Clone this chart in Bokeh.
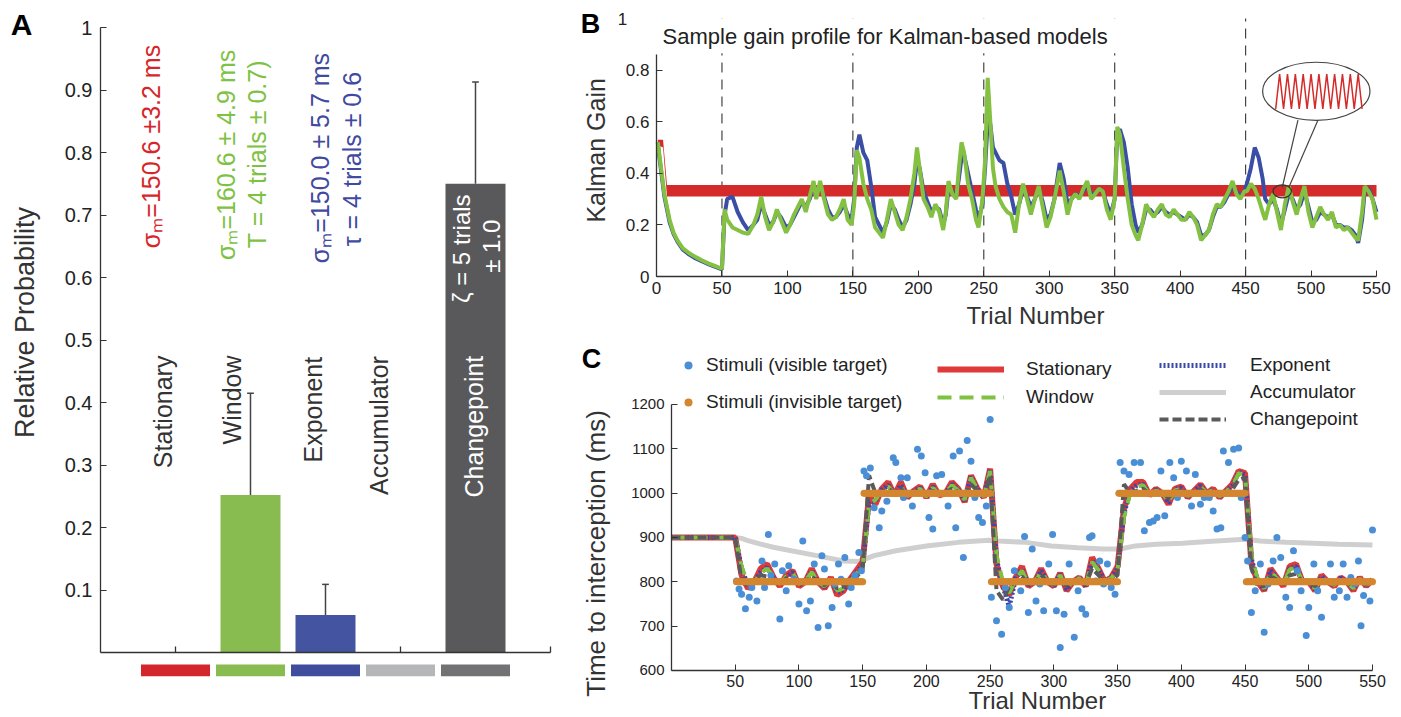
import numpy as np
from math import pi
from bokeh.plotting import figure
from bokeh.layouts import row, column
from bokeh.models import (FixedTicker, CustomJSTickFormatter, Label, Legend, Range1d)
from bokeh.core.properties import value
from bokeh.embed import file_html
from bokeh.resources import INLINE

FONT = "Liberation Sans"
AX = "#333333"
TXT = "#222222"

# ---------------- Panel A data ----------------
models = ["Stationary", "Window", "Exponent", "Accumulator", "Changepoint"]
model_pos = [1, 2, 3, 4, 5]
rel_prob = [0.0, 0.252, 0.060, 0.0, 0.750]
err_pos = [2, 3, 5]
err_base = [0.252, 0.060, 0.750]
err_top = [0.415, 0.109, 0.913]
bar_colors = ["#d3262c", "#88bb50", "#4454a0", "#b5b6b8", "#59595b"]
swatch_colors = ["#d3262c", "#88bb50", "#3f4d9c", "#b5b6b8", "#727274"]
a_xticks = [1, 4, 6]

# rotated annotation texts of panel A
name_x = [0.83, 1.76, 2.84, 3.71, 4.98]
name_y = [0.295, 0.333, 0.304, 0.252, 0.248]
name_colors = ["#333333", "#333333", "#333333", "#333333", "#ffffff"]
param_text = ["σₘ=150.6  ±3.2 ms", "σₘ=160.6  ± 4.9 ms", "T = 4 trials  ± 0.7)",
              "σₘ=150.0  ± 5.7 ms", "τ = 4 trials  ± 0.6"]
param_x = [0.67, 1.67, 2.09, 2.93, 3.36]
param_y = [0.647, 0.628, 0.647, 0.623, 0.650]
param_colors = ["#d6262b", "#7dc242", "#7dc242", "#3f4aa0", "#3f4aa0"]
cp_text = ["ζ = 5 trials", "± 1.0"]
cp_x = [4.81, 5.21]
cp_y = [0.646, 0.650]

# ---------------- Panel B data ----------------
change_trials = [50, 150, 250, 350, 450]
b_t = ([1, 2, 4, 6, 8, 10, 13, 16, 20, 25, 30, 35, 40, 45, 50] +
       [52, 54, 58, 62, 66, 70, 74, 77, 80, 83, 86, 89, 92, 95, 99, 102, 105, 108, 111, 114, 117, 120,
        122, 125, 128, 131, 134, 137, 140, 143, 146, 149] +
       [151, 153, 155, 158, 161, 164, 167, 170, 173, 176, 179, 182, 185, 188, 191, 194, 197, 199, 201,
        204, 207, 210, 213, 216, 219, 221, 223, 226, 229, 231, 233, 235, 238, 241, 244, 246, 249] +
       [251, 253, 255, 257, 259, 262, 265, 268, 271, 274, 277, 280, 283, 286, 289, 292, 295, 298, 301,
        304, 308, 311, 314, 317, 320, 323, 326, 329, 332, 335, 338, 341, 344, 347, 350] +
       [352, 354, 357, 360, 363, 366, 368, 371, 374, 377, 380, 383, 386, 389, 392, 395, 398, 401, 404,
        407, 410, 413, 416, 419, 422, 425, 428, 431, 434, 437, 440, 443, 446, 449] +
       [451, 454, 457, 460, 463, 465, 468, 471, 474, 477, 480, 483, 486, 489, 492, 495, 498, 501, 504,
        507, 510, 513, 516, 519, 522, 525, 528, 531, 534, 536, 539, 541, 544, 547, 550])
gain_window = ([.52, .48, .40, .32, .27, .22, .17, .14, .11, .09, .075, .062, .05, .04, .03] +
               [.26, .22, .19, .18, .17, .165, .2, .24, .31, .23, .18, .21, .26, .22, .17, .2, .24, .27, .3, .25,
                .31, .37, .3, .37, .3, .24, .22, .23, .26, .3, .22, .2] +
               [.28, .49, .46, .36, .3, .26, .19, .17, .15, .22, .3, .25, .2, .18, .23, .3, .4, .5, .42, .3,
                .27, .23, .28, .25, .18, .25, .37, .32, .3, .42, .52, .48, .36, .3, .22, .19, .3] +
               [.45, .77, .6, .42, .35, .3, .27, .25, .24, .17, .28, .36, .3, .24, .3, .35, .27, .19, .23, .3,
                .41, .33, .24, .3, .32, .3, .34, .37, .3, .32, .34, .33, .26, .22, .3] +
               [.58, .55, .42, .3, .2, .16, .14, .2, .28, .25, .23, .26, .28, .24, .23, .26, .24, .22, .22, .25,
                .23, .2, .14, .16, .18, .24, .28, .27, .3, .33, .37, .32, .3, .33] +
               [.33, .36, .34, .3, .25, .22, .28, .32, .25, .18, .28, .35, .29, .24, .3, .35, .25, .19, .23, .27,
                .24, .22, .25, .19, .2, .18, .19, .17, .15, .14, .25, .35, .33, .3, .22])
gain_exponent = ([.52, .47, .39, .31, .26, .21, .165, .135, .105, .085, .07, .058, .047, .037, .028] +
                 [.24, .30, .31, .25, .21, .18, .2, .22, .28, .24, .2, .21, .25, .23, .19, .2, .23, .26, .29, .27,
                  .3, .35, .32, .35, .31, .26, .23, .23, .25, .28, .24, .22] +
                 [.3, .5, .55, .48, .45, .35, .23, .2, .17, .21, .28, .26, .22, .19, .22, .28, .36, .45, .42, .33,
                  .29, .25, .27, .26, .2, .24, .34, .33, .31, .38, .46, .47, .4, .33, .26, .22, .28] +
                 [.42, .6, .59, .5, .48, .45, .44, .36, .31, .24, .28, .34, .31, .27, .3, .34, .29, .22, .24, .3,
                  .44, .38, .28, .3, .32, .31, .33, .36, .32, .32, .34, .33, .28, .24, .3] +
                 [.56, .57, .52, .42, .28, .2, .17, .2, .26, .26, .24, .25, .27, .25, .24, .25, .24, .23, .22, .24,
                  .23, .21, .16, .16, .18, .23, .27, .27, .29, .32, .35, .33, .31, .33] +
                 [.36, .42, .5, .46, .38, .3, .28, .3, .26, .2, .26, .32, .3, .26, .28, .33, .27, .21, .22, .25,
                  .24, .23, .24, .2, .2, .19, .19, .18, .16, .13, .22, .33, .34, .3, .25])
# stationary gain: narrow start, then an oscillating band (drawn as its envelope)
stat_t = [1, 5, 8, 550]
stat_lo = [0.51, 0.50, 0.31, 0.31]
stat_hi = [0.53, 0.53, 0.355, 0.355]
# magnified inset of the stationary oscillation
inset_t = [473, 476, 479, 482, 485, 488, 491, 494, 497, 500, 503, 506, 509, 512, 515, 518, 521, 524,
           527, 530, 533, 536, 539]
inset_g = [0.65, 0.785, 0.65, 0.785, 0.65, 0.785, 0.65, 0.785, 0.65, 0.785, 0.65, 0.785, 0.65, 0.785,
           0.65, 0.785, 0.65, 0.785, 0.65, 0.785, 0.65, 0.785, 0.65]

# ---------------- Panel C data ----------------
c_t = list(range(0, 551, 5))
c_stat = ([900] * 11 +
          [815, 785, 800, 830, 840, 810, 790, 815, 825, 790, 800, 830, 800, 785, 810, 770, 780, 805, 825, 845] +
          [995, 975, 1010, 1025, 995, 1025, 990, 1005, 1015, 990, 1020, 995, 1000, 1025, 1010, 980, 1040, 1010, 990, 1055] +
          [840, 790, 770, 810, 835, 790, 800, 830, 800, 790, 820, 780, 800, 810, 790, 855, 830, 800, 810, 835] +
          [965, 1010, 1025, 1025, 995, 1010, 1000, 975, 1010, 1015, 990, 1005, 1020, 1000, 1010, 990, 1005, 1020, 1050, 1045] +
          [840, 800, 780, 830, 810, 790, 835, 840, 800, 800, 780, 815, 800, 790, 810, 800, 780, 810, 790, 805])
c_win = ([900] * 11 +
         [835, 795, 800, 820, 830, 812, 795, 812, 820, 795, 802, 822, 800, 790, 808, 780, 785, 800, 818, 835] +
         [975, 985, 1005, 1015, 998, 1015, 993, 1003, 1010, 992, 1012, 997, 1000, 1018, 1006, 985, 1035, 1008, 992, 1050] +
         [860, 800, 775, 805, 825, 795, 800, 822, 802, 793, 815, 785, 800, 808, 792, 845, 826, 802, 808, 828] +
         [945, 1000, 1015, 1018, 997, 1006, 1000, 980, 1006, 1010, 993, 1003, 1015, 1000, 1007, 993, 1003, 1015, 1045, 1040] +
         [860, 805, 785, 822, 808, 793, 828, 832, 802, 800, 785, 810, 800, 793, 808, 800, 785, 807, 793, 803])
c_exp = ([900] * 11 +
         [830, 790, 800, 822, 832, 810, 793, 810, 822, 793, 800, 825, 800, 788, 808, 775, 782, 803, 820, 838] +
         [980, 982, 1007, 1018, 996, 1018, 992, 1004, 1012, 991, 1015, 996, 1000, 1020, 1008, 983, 1037, 1009, 991, 1052] +
         [850, 790, 745, 808, 828, 793, 800, 825, 801, 791, 817, 783, 800, 809, 791, 848, 828, 801, 809, 830] +
         [955, 1005, 1018, 1020, 996, 1008, 1000, 978, 1008, 1012, 992, 1004, 1017, 1000, 1008, 992, 1004, 1017, 1047, 1042] +
         [850, 803, 783, 825, 809, 792, 830, 835, 801, 800, 783, 812, 800, 792, 809, 800, 783, 808, 792, 804])
c_cp = ([900] * 11 +
        [800, 790, 805, 815, 812, 800, 795, 808, 810, 795, 800, 812, 800, 792, 805, 785, 790, 800, 810, 830] +
        [1040, 1000, 1000, 1010, 1000, 1010, 995, 1000, 1005, 995, 1005, 998, 1000, 1010, 1003, 990, 1020, 1005, 995, 1040] +
        [780, 760, 790, 800, 812, 795, 800, 815, 800, 795, 808, 790, 800, 805, 795, 830, 815, 800, 805, 815] +
        [1020, 1000, 1005, 1010, 998, 1003, 1000, 990, 1003, 1005, 995, 1000, 1008, 1000, 1003, 995, 1000, 1008, 1030, 1035] +
        [830, 790, 790, 812, 805, 795, 815, 818, 800, 800, 790, 805, 800, 796, 804, 800, 790, 803, 795, 802])
acc_t = [0, 50, 55, 60, 70, 80, 94, 114, 135, 147, 159, 176, 200, 225, 249, 257, 278, 298, 319, 339,
         352, 364, 380, 401, 421, 450, 462, 482, 503, 523, 550]
acc_v = [900, 900, 898, 893, 885, 878, 870, 859, 847, 846, 859, 870, 881, 889, 894, 892, 889, 881, 877, 874,
         874, 881, 885, 887, 891, 896, 892, 889, 887, 885, 883]

vis_t = ([51, 53, 55, 58, 61, 63, 67, 71, 73, 76, 78, 81, 85, 87, 90, 92, 96, 100, 103, 106, 109, 112, 115,
          118, 120, 123, 126, 128, 131, 133, 136, 139, 141, 144, 147, 149] +
         [151, 153, 156, 159, 163, 165, 169, 174, 176, 180, 182, 185, 189, 193, 196, 199, 202, 205, 208, 212,
          217, 221, 223, 226, 229, 232, 235, 238, 241, 244, 247, 250] +
         [251, 255, 259, 262, 265, 269, 274, 277, 280, 283, 286, 289, 292, 296, 299, 302, 305, 308, 312, 316,
          319, 322, 325, 328, 330, 333, 336, 339, 342, 345, 348] +
         [352, 355, 359, 363, 368, 371, 375, 378, 381, 384, 387, 391, 394, 397, 400, 404, 408, 411, 415, 418,
          422, 425, 428, 431, 433, 437, 441, 445, 447, 450] +
         [452, 455, 458, 462, 465, 468, 472, 475, 478, 482, 485, 488, 491, 494, 498, 500, 504, 507, 510, 513,
          517, 520, 524, 527, 530, 533, 536, 539, 541, 543, 548, 550])
vis_ms = ([802, 784, 772, 739, 765, 787, 757, 847, 787, 907, 814, 840, 716, 825, 780, 836, 806, 750, 892, 735,
           757, 840, 697, 859, 829, 701, 742, 795, 840, 806, 855, 750, 787, 814, 866, 825] +
          [1050, 1039, 1057, 967, 922, 960, 982, 1080, 1069, 1035, 990, 1035, 971, 1099, 1084, 1046, 945, 919,
           1039, 1042, 971, 1084, 922, 1095, 855, 1119, 1072, 990, 945, 934, 971, 1166] +
          [765, 712, 682, 787, 742, 825, 780, 902, 731, 874, 757, 795, 735, 840, 907, 735, 652, 727, 840, 675,
           780, 739, 727, 900, 904, 802, 847, 795, 840, 787, 772] +
          [1069, 1050, 1042, 1069, 1069, 915, 934, 937, 945, 1050, 949, 1069, 1035, 990, 1072, 1050, 971, 1042,
           975, 990, 990, 960, 919, 922, 1095, 1069, 1099, 1102, 990, 900] +
          [847, 731, 780, 840, 686, 795, 847, 900, 855, 765, 742, 870, 825, 780, 679, 742, 840, 780, 720, 802,
           840, 765, 780, 840, 765, 810, 795, 847, 701, 769, 757, 917])
block_start = [51, 151, 251, 351, 451]
block_end = [150, 250, 350, 450, 550]
block_mean = [800, 1000, 800, 1000, 800]
inv_t = [t for s, e in zip(block_start, block_end) for t in range(s, e + 1)]
inv_ms = [m for s, e, m in zip(block_start, block_end, block_mean) for t in range(s, e + 1)]


def make_fig(w, h, xr, yr):
    p = figure(width=w, height=h, x_range=Range1d(*xr), y_range=Range1d(*yr),
               output_backend="svg", toolbar_location=None,
               min_border=0, min_border_left=0, min_border_right=0, min_border_top=0, min_border_bottom=0)
    p.xgrid.visible = False
    p.ygrid.visible = False
    p.outline_line_color = None
    return p


def style_axis(ax, tick_size, loc, bounds):
    ax.fixed_location = loc
    ax.bounds = bounds
    ax.axis_line_color = AX
    ax.axis_line_width = 1.3
    ax.major_tick_line_color = AX
    ax.major_tick_in = 6
    ax.major_tick_out = 0
    ax.minor_tick_line_color = None
    ax.major_label_text_font = FONT
    ax.major_label_text_font_size = tick_size
    ax.major_label_text_color = TXT


def add_label(p, x, y, text, size, angle=0.0, bold=False, color=TXT, align="center"):
    p.add_layout(Label(x=x, y=y, text=text, angle=angle, text_font=FONT, text_font_size=size,
                       text_font_style="bold" if bold else "normal", text_color=color,
                       text_align=align, text_baseline="middle"))


fmt1 = CustomJSTickFormatter(code="return (Math.round(tick*10)/10).toString();")

# ================= Panel A =================
pA = make_fig(580, 716, (-1.3333, 6.4), (-0.1024, 1.0432))
pA.vbar(x=model_pos, top=rel_prob, width=0.8, fill_color=bar_colors, line_color=None)
pA.segment(x0=err_pos, y0=err_base, x1=err_pos, y1=err_top, line_color="#444444", line_width=1.5)
pA.segment(x0=[x - 0.045 for x in err_pos], y0=err_top, x1=[x + 0.045 for x in err_pos], y1=err_top,
           line_color="#444444", line_width=1.5)
pA.quad(left=[x - 0.46 for x in model_pos], right=[x + 0.46 for x in model_pos],
        bottom=-0.038, top=-0.019, fill_color=swatch_colors, line_color=None)
# x axis of panel A (line at zero with inward ticks, no labels)
pA.segment(x0=[0], y0=[0], x1=[6], y1=[0], line_color=AX, line_width=1.3)
pA.segment(x0=a_xticks, y0=0, x1=a_xticks, y1=0.0096, line_color=AX, line_width=1.3)
pA.text(x=name_x, y=name_y, text=models, angle=pi / 2, text_align="left", text_baseline="middle",
        text_font=value(FONT), text_font_size="25px", text_color=name_colors)
pA.text(x=param_x, y=param_y, text=param_text, angle=pi / 2, text_align="left", text_baseline="middle",
        text_font=value(FONT), text_font_size="25px", text_color=param_colors)
pA.text(x=cp_x, y=cp_y, text=cp_text, angle=pi / 2, text_align="center", text_baseline="middle",
        text_font=value(FONT), text_font_size="24px", text_color="#ffffff")
pA.xaxis.visible = False
style_axis(pA.yaxis[0], "20px", 0, (0, 1))
pA.yaxis.ticker = FixedTicker(ticks=[0.1, 0.2, 0.3, 0.4, 0.5, 0.6, 0.7, 0.8, 0.9, 1.0])
pA.yaxis.formatter = fmt1
pA.yaxis.major_label_standoff = 8
add_label(pA, -1.013, 0.528, "Relative Probability", "27px", angle=pi / 2, color="#333333")
add_label(pA, -1.053, 1.005, "A", "30px", bold=True, color="#000000")

# ================= Panel B =================
pB = make_fig(821, 330, (-58.06, 569.1), (-0.2093, 1.0698))
pB.segment(x0=change_trials, y0=0, x1=change_trials, y1=1.0, line_color="#444444", line_width=1.2,
           line_dash="10 7")
pB.varea(x=stat_t, y1=stat_lo, y2=stat_hi, fill_color="#d42a2a")
pB.line(b_t, gain_exponent, line_color="#3b4ea6", line_width=4)
pB.line(b_t, gain_window, line_color="#84c143", line_width=4)
# white title box (covers the top of the dashed lines as in the original)
pB.quad(left=[1], right=[372], bottom=[0.865], top=[1.0], fill_color="white", line_color=None)
add_label(pB, 4.6, 0.932, "Sample gain profile for Kalman-based models", "22px", color=TXT, align="left")
# callout inset
pB.line([490, 478], [0.606, 0.345], line_color="#444444", line_width=1.2)
pB.line([506, 483], [0.614, 0.345], line_color="#444444", line_width=1.2)
pB.ellipse(x=[504], y=[0.718], width=[82], height=[0.225], fill_color="white", line_color="#444444",
           line_width=1.2)
pB.line(inset_t, inset_g, line_color="#d42a2a", line_width=1.5)
pB.ellipse(x=[478], y=[0.33], width=[14], height=[0.05], fill_color=None, line_color="#333333",
           line_width=1.2)
style_axis(pB.xaxis[0], "17px", 0, (0, 550))
style_axis(pB.yaxis[0], "17px", 0, (0, 0.86))
pB.xaxis.ticker = FixedTicker(ticks=list(range(0, 551, 50)))
pB.yaxis.ticker = FixedTicker(ticks=[0, 0.2, 0.4, 0.6, 0.8])
pB.yaxis.formatter = fmt1
pB.yaxis.major_label_standoff = 7
pB.xaxis.major_label_standoff = 5
add_label(pB, -26, 1.0, "1", "17px")
add_label(pB, -46.6, 0.489, "Kalman Gain", "25px", angle=pi / 2, color="#333333")
add_label(pB, 289.5, -0.152, "Trial Number", "24px", color="#333333")
add_label(pB, -50.4, 0.977, "B", "27px", bold=True, color="#000000")

# ================= Panel C =================
pC = make_fig(821, 386, (-71.4, 572.76), (496.2, 1366.9))
r_acc = pC.line(acc_t, acc_v, line_color="#cfcfcf", line_width=5)
r_stat = pC.line(c_t, c_stat, line_color="#e0393a", line_width=6)
r_exp = pC.line(c_t, c_exp, line_color="#3949ab", line_width=5, line_dash="2 2")
r_win = pC.line(c_t, c_win, line_color="#7fc241", line_width=4, line_dash="14 8")
r_cp = pC.line(c_t, c_cp, line_color="#5a5a5a", line_width=4, line_dash="9 4")
r_vis = pC.scatter(vis_t, vis_ms, size=7, fill_color="#4a8fd6", line_color=None)
r_inv = pC.scatter(inv_t, inv_ms, size=7, fill_color="#d4862f", line_color=None)

common = dict(padding=0, margin=0, border_line_color=None, background_fill_alpha=0,
              label_text_font=FONT, label_text_font_size="19px", label_text_color=TXT,
              glyph_height=22, label_height=22)
leg1 = Legend(items=[("Stimuli (visible target)", [r_vis]), ("Stimuli (invisible target)", [r_inv])],
              location=(98, 303), spacing=15, glyph_width=20, label_standoff=8, **common)
leg2 = Legend(items=[("Stationary", [r_stat]), ("Window", [r_win])],
              location=(357, 308), spacing=6, glyph_width=67, label_standoff=22, **common)
leg3 = Legend(items=[("Exponent", [r_exp]), ("Accumulator", [r_acc]), ("Changepoint", [r_cp])],
              location=(579, 286), spacing=5, glyph_width=67, label_standoff=24, **common)
for lg in (leg1, leg2, leg3):
    pC.add_layout(lg)

style_axis(pC.xaxis[0], "16px", 600, (0, 550))
style_axis(pC.yaxis[0], "15px", 0, (600, 1200))
pC.xaxis.ticker = FixedTicker(ticks=list(range(50, 551, 50)))
pC.yaxis.ticker = FixedTicker(ticks=list(range(600, 1201, 100)))
pC.yaxis.major_label_standoff = 7
pC.xaxis.major_label_standoff = 5
add_label(pC, -59.6, 863.9, "Time to interception (ms)", "26px", angle=pi / 2, color="#333333")
add_label(pC, 287, 532.3, "Trial Number", "24px", color="#333333")
add_label(pC, -62.8, 1301.5, "C", "27px", bold=True, color="#000000")

layout = row(pA, column(pB, pC))
open("out.html", "w").write(file_html(layout, INLINE))
